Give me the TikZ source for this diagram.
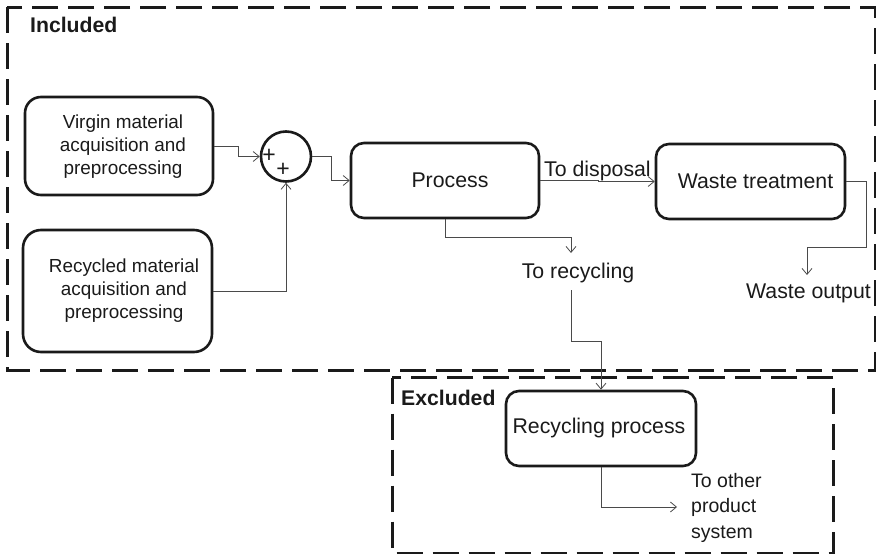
\documentclass[tikz,border=0pt]{standalone}
\usepackage{fontspec}
\setmainfont{Liberation Sans}
\usetikzlibrary{arrows.meta}
\definecolor{ink}{HTML}{1A1A1A}
\definecolor{wire}{HTML}{4A4A4A}
\begin{document}
\begin{tikzpicture}[x=1pt,y=-1pt,
  boundary/.style={draw=ink,line width=3pt,dash pattern=on 26pt off 10pt},
  procbox/.style={draw=ink,line width=2.6pt,rounded corners=13pt,inner sep=0pt},
  flow/.style={draw=wire,line width=0.8pt,-{Straight Barb[length=6pt,width=10pt]}},
  big/.style={font=\fontsize{21.3}{24}\selectfont,text=ink,inner sep=0pt},
  small/.style={font=\fontsize{18.9}{23}\selectfont,text=ink,inner sep=0pt,align=center},
  sign/.style={font=\fontsize{23}{23}\selectfont,text=ink,inner sep=0pt},
  head/.style={font=\fontsize{21.2}{24}\selectfont\bfseries,text=ink,inner sep=0pt}]
\useasboundingbox (0,0) rectangle (876,554);

% system boundaries
\draw[boundary] (7,7) rectangle (875.5,370);
\draw[boundary] (392,377.5) rectangle (833,553);
\node[head,anchor=base west] (inc) at (30,32) {Included};
\node[head,anchor=base west] (exc) at (401,405) {Excluded};

% process boxes
\node[procbox,minimum width=188pt,minimum height=98pt,rounded corners=16pt] (vir) at (119,146) {};
\node[small] (virt) at (123,147) {Virgin material\\acquisition and\\preprocessing};
\node[procbox,minimum width=189pt,minimum height=122pt,rounded corners=18pt] (rec) at (117.5,291) {};
\node[small] (rect) at (124,291) {Recycled material\\acquisition and\\preprocessing};
\node[draw=ink,line width=2.6pt,circle,minimum size=50pt,inner sep=0pt] (sum) at (286,156.5) {};
\node[sign] (p1) at (269,155.5) {+};
\node[sign] (p2) at (283,170) {+};
\node[procbox,minimum width=188pt,minimum height=75pt] (proc) at (445,180.5) {};
\node[big] (proct) at (450,180) {Process};
\node[procbox,minimum width=189pt,minimum height=75pt] (wt) at (750.5,181.5) {};
\node[big] (wtt) at (755.5,181) {Waste treatment};
\node[procbox,minimum width=190pt,minimum height=75pt] (rp) at (601,428.5) {};
\node[big] (rpt) at (599,428) {Recycling process};

% flow labels
\node[big,anchor=base west] (disp) at (544,176) {To disposal};
\node[big,anchor=base] (torec) at (578,278) {To recycling};
\node[big,anchor=base] (wout) at (808.5,298) {Waste output};
\node[big,anchor=west,align=left,font=\fontsize{19.5}{25.5}\selectfont] (other) at (691,507.5) {To other\\product\\system};

% free ends of the flows
\coordinate (wo) at (807,275);
\coordinate (tr) at (571,253);
\coordinate (trs) at (571,290);
\coordinate (op) at (677,507);

% connectors
\draw[flow] (vir.east) -- ++(24,0) |- (sum.west);
\draw[flow] (rec.east) -| (sum.south);
\draw[flow] (sum.east) -- ++(19,0) |- (proc.west);
\draw[flow] (proc.east) -- ++(58,0) |- (wt.west);
\draw[flow] (wt.east) -| (866,247) -| (wo);
\draw[flow] (proc.south) -- ++(0,18) -| (tr);
\draw[flow] (trs) -- (571,341) -| (rp.north);
\draw[flow] (rp.south) |- (op);
\end{tikzpicture}
\end{document}
